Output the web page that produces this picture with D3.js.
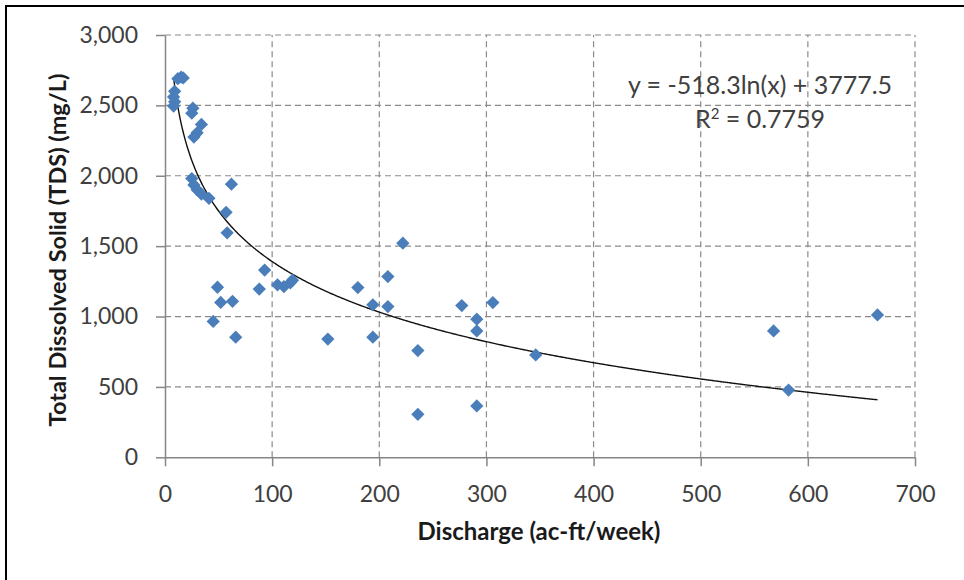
<!DOCTYPE html>
<html>
<head>
<meta charset="utf-8">
<script src="https://cdn.jsdelivr.net/npm/d3@7"></script>
<style>
  html, body { margin: 0; padding: 0; background: #fff; }
  svg { display: block; font-family: Lato, "Open Sans", sans-serif; }
</style>
</head>
<body>
<div id="chart"></div>
<script>
// Discharge (ac-ft/week) and TDS (mg/L)
const discharge = [
  12, 15, 17, 9, 8, 9, 8, 26, 25, 34, 30, 27,
  25, 27, 30, 34, 41, 62, 57, 58, 93, 88, 49, 52,
  63, 45, 66, 105, 111, 117, 119, 152, 180, 194, 194, 208,
  208, 222, 236, 236, 277, 291, 291, 306, 291, 346, 568, 582, 665
];
const tds = [
  2690, 2700, 2695, 2600, 2560, 2525, 2495, 2480, 2445, 2365, 2305, 2275,
  1980, 1935, 1900, 1870, 1840, 1940, 1740, 1595, 1330, 1195, 1208, 1100,
  1108, 965, 853, 1225, 1213, 1240, 1258, 840, 1206, 1083, 853, 1284,
  1071, 1521, 758, 305, 1078, 981, 898, 1099, 365, 727, 898, 478, 1011
];

const xTicks = [0, 100, 200, 300, 400, 500, 600, 700];
const yTicks = [0, 500, 1000, 1500, 2000, 2500, 3000];

// Logarithmic trendline from the chart
const trendA = -518.3;
const trendB = 3777.5;
const trendLabel = "y = -518.3ln(x) + 3777.5";
const r2Label = "0.7759";

const width = 964;
const height = 580;
const margin = { top: 35, right: 49, bottom: 122.7, left: 165 };

const svg = d3.select("#chart")
  .append("svg")
  .attr("width", width)
  .attr("height", height);

// outer frame
svg.append("rect")
  .attr("x", 6)
  .attr("y", 6)
  .attr("width", width)
  .attr("height", height)
  .attr("fill", "none")
  .attr("stroke", "#000")
  .attr("stroke-width", 2);

const x = d3.scaleLinear()
  .domain([0, 700])
  .range([margin.left, width - margin.right]);

const y = d3.scaleLinear()
  .domain([0, 3000])
  .range([height - margin.bottom, margin.top]);

const gridColor = "#8a8a8a";

// dashed grid
svg.append("g")
  .selectAll("line")
  .data(xTicks.filter(d => d > 0))
  .join("line")
  .attr("x1", d => x(d))
  .attr("x2", d => x(d))
  .attr("y1", y(0))
  .attr("y2", y(3000))
  .attr("stroke", gridColor)
  .attr("stroke-width", 1.2)
  .attr("stroke-dasharray", "6,4");

svg.append("g")
  .selectAll("line")
  .data(yTicks.filter(d => d > 0))
  .join("line")
  .attr("x1", x(0))
  .attr("x2", x(700))
  .attr("y1", d => y(d))
  .attr("y2", d => y(d))
  .attr("stroke", gridColor)
  .attr("stroke-width", 1.2)
  .attr("stroke-dasharray", "6,4");

// axes
const xAxis = svg.append("g")
  .attr("transform", `translate(0,${y(0)})`)
  .call(d3.axisBottom(x).tickValues(xTicks).tickSize(9).tickPadding(19).tickSizeOuter(0));

const yAxis = svg.append("g")
  .attr("transform", `translate(${x(0)},0)`)
  .call(d3.axisLeft(y).tickValues(yTicks).tickSize(9).tickPadding(18).tickSizeOuter(0)
    .tickFormat(d3.format(",")));

[xAxis, yAxis].forEach(g => {
  g.select(".domain").attr("stroke", "#868686").attr("stroke-width", 1.5);
  g.selectAll(".tick line").attr("stroke", "#868686").attr("stroke-width", 1.5);
  g.selectAll(".tick text")
    .attr("fill", "#404040")
    .style("font-size", "23px")
    .style("font-family", "Lato, sans-serif");
});

// trendline
const trend = d3.range(8, 665.5, 1).map(v => [v, trendA * Math.log(v) + trendB]);

svg.append("path")
  .datum(trend)
  .attr("fill", "none")
  .attr("stroke", "#111")
  .attr("stroke-width", 1.4)
  .attr("d", d3.line().x(d => x(d[0])).y(d => y(d[1])).curve(d3.curveMonotoneX));

// diamonds
const points = discharge.map((d, i) => ({ q: d, tds: tds[i] }));

svg.append("g")
  .selectAll("path")
  .data(points)
  .join("path")
  .attr("d", d3.symbol(d3.symbolSquare, 88))
  .attr("transform", d => `translate(${x(d.q)},${y(d.tds)}) rotate(45)`)
  .attr("fill", "#4a7ebb");

// equation
svg.append("text")
  .attr("x", 760)
  .attr("y", 94)
  .attr("text-anchor", "middle")
  .attr("fill", "#404040")
  .style("font-size", "25px")
  .text(trendLabel);

const r2 = svg.append("text")
  .attr("x", 760)
  .attr("y", 128)
  .attr("text-anchor", "middle")
  .attr("fill", "#404040")
  .style("font-size", "25px");
r2.append("tspan").text("R");
r2.append("tspan").attr("dy", -9).style("font-size", "15px").text("2");
r2.append("tspan").attr("dy", 9).text(" = " + r2Label);

// axis titles
svg.append("text")
  .attr("x", 539)
  .attr("y", 540)
  .attr("text-anchor", "middle")
  .attr("fill", "#1a1a1a")
  .style("font-size", "24px")
  .style("font-weight", "bold")
  .text("Discharge (ac-ft/week)");

svg.append("text")
  .attr("transform", "translate(66,250) rotate(-90)")
  .attr("text-anchor", "middle")
  .attr("fill", "#1a1a1a")
  .style("font-size", "23.5px")
  .style("font-weight", "bold")
  .text("Total Dissolved Solid (TDS) (mg/L)");
</script>
</body>
</html>
